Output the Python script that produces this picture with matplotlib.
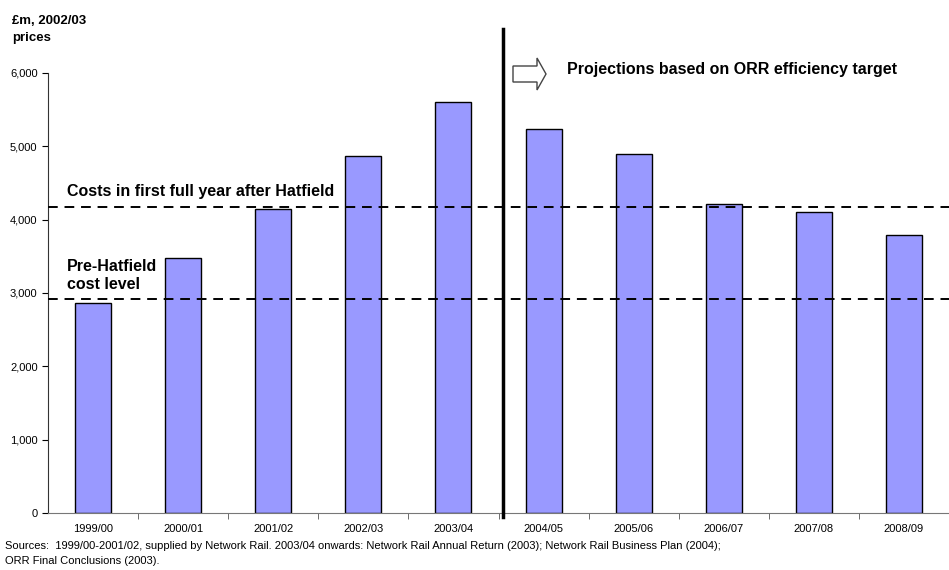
import matplotlib.pyplot as plt
from matplotlib.patches import FancyArrow
from matplotlib.ticker import FuncFormatter

plt.rcParams["font.family"] = ["Liberation Sans", "DejaVu Sans"]

years = ["1999/00", "2000/01", "2001/02", "2002/03", "2003/04",
         "2004/05", "2005/06", "2006/07", "2007/08", "2008/09"]
costs = [2870, 3480, 4140, 4870, 5600, 5230, 4900, 4210, 4110, 3790]
post_hatfield_level = 4170
pre_hatfield_level = 2920

fig = plt.figure(figsize=(9.49, 5.70), dpi=100)
ax = fig.add_axes([48 / 949, 0.1, 1 - 48 / 949, 0.772])

xs = list(range(len(years)))
ax.bar(xs, costs, width=0.4, color="#9999FF", edgecolor="black", linewidth=1.0, zorder=2)

ax.set_xlim(-0.5, len(years) - 0.5)
ax.set_ylim(0, 6000)

# reference levels
ax.axhline(post_hatfield_level, color="black", linestyle=(0, (5, 3.5)), linewidth=1.4, zorder=3)
ax.axhline(pre_hatfield_level, color="black", linestyle=(0, (5, 3.5)), linewidth=1.4, zorder=3)

# split between actuals and projections
ax.plot([4.55, 4.55], [-50, 6600], color="black", linewidth=2.5, clip_on=False, zorder=4)

ax.set_xticks(xs)
ax.set_xticklabels(years, fontsize=8)
ax.set_xticks([x + 0.5 for x in xs[:-1]], minor=True)
ax.tick_params(axis="x", which="major", length=0, pad=8)
ax.tick_params(axis="x", which="minor", length=4, direction="out", color="#555555")
ax.set_yticks(range(0, 6001, 1000))
ax.yaxis.set_major_formatter(FuncFormatter(lambda v, p: f"{int(v):,}"))
ax.tick_params(axis="y", labelsize=8, length=4, direction="out")

for side in ["top", "right"]:
    ax.spines[side].set_visible(False)
ax.spines["bottom"].set_color("#777777")
ax.spines["left"].set_color("#333333")

ax.text(-0.29, 4320, "Costs in first full year after Hatfield", fontsize=11.5, fontweight="bold")
ax.text(-0.29, 3060, "Pre-Hatfield\ncost level", fontsize=11.5, fontweight="bold", linespacing=1.25)

fig.text(12 / 949, 1 - 15 / 570, "£m, 2002/03\nprices", fontsize=9.5, fontweight="bold",
         va="top", linespacing=1.6)

arrow = FancyArrow(513 / 949, 1 - 74 / 570, 24 / 949, 0, width=16 / 570,
                   head_width=32 / 570, head_length=9 / 949, length_includes_head=False,
                   transform=fig.transFigure, facecolor="white", edgecolor="#444444", linewidth=1.0)
fig.add_artist(arrow)
fig.text(567 / 949, 1 - 70 / 570, "Projections based on ORR efficiency target",
         fontsize=11.5, fontweight="bold", va="center")

fig.text(5 / 949, 1 - 541 / 570,
         "Sources:  1999/00-2001/02, supplied by Network Rail. 2003/04 onwards: Network Rail Annual Return (2003); "
         "Network Rail Business Plan (2004);\nORR Final Conclusions (2003).",
         fontsize=8, va="top", linespacing=1.65)

fig.savefig("out.png", dpi=100)
